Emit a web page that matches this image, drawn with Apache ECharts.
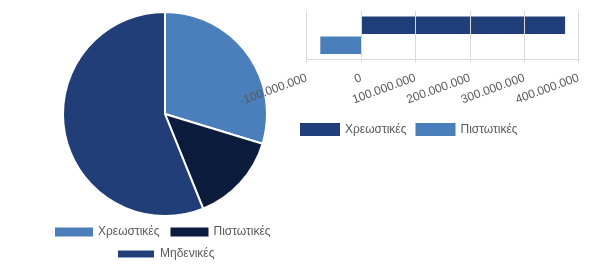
<!DOCTYPE html>
<html><head><meta charset="utf-8">
<script src="https://cdn.jsdelivr.net/npm/echarts@6/dist/echarts.min.js"></script>
<style>html,body{margin:0;padding:0;background:#fff}#c{width:590px;height:269px}</style>
</head><body><div id="c"></div>
<script>
const pieNames = ['Χρεωστικές', 'Πιστωτικές', 'Μηδενικές'];
const pieValues = [297, 142, 561];
const barSeriesNames = ['Χρεωστικές', 'Πιστωτικές'];
const barValues = [375000000, -75000000];
const barCategories = [''];
const pieColors = ['#4a7fbc', '#0c1c3c', '#213e78'];
const barColors = ['#203e79', '#4a7ebb'];

function fmt(v){
  const s = String(Math.abs(v)).replace(/\B(?=(\d{3})+(?!\d))/g, '.');
  return (v < 0 ? '-' : '') + s;
}
const txt = {color:'#595959', fontSize:12, fontFamily:'Liberation Sans, Arial, sans-serif'};
const chart = echarts.init(document.getElementById('c'));
chart.setOption({
  animation:false,
  textStyle:{fontFamily:'Liberation Sans, Arial, sans-serif'},
  legend:[
    {data:[{name:pieNames[0], itemStyle:{color:pieColors[0]}}, {name:pieNames[1], itemStyle:{color:pieColors[1]}}],
      left:55, top:226, padding:0, itemWidth:38, itemHeight:9, itemGap:11, icon:'rect', textStyle:txt},
    {data:[{name:pieNames[2], itemStyle:{color:pieColors[2]}}],
      left:116, top:248, padding:0, itemWidth:38, itemHeight:9, icon:'rect', textStyle:txt},
    {data:[{name:barSeriesNames[0], itemStyle:{color:barColors[0]}}, {name:barSeriesNames[1], itemStyle:{color:barColors[1]}}],
      left:300, top:123, padding:0, itemWidth:40, itemHeight:13, itemGap:9, icon:'rect', textStyle:txt}
  ],
  grid:{left:306.7, right:11.3, top:11, height:48.5, containLabel:false},
  xAxis:{type:'value', min:-100000000, max:400000000, interval:100000000, z:10,
    axisLine:{show:true, lineStyle:{color:'#d9d9d9'}},
    axisTick:{show:true, length:3, lineStyle:{color:'#d9d9d9'}},
    splitLine:{show:true, lineStyle:{color:'#d9d9d9'}},
    axisLabel:{rotate:20, formatter:fmt, color:'#595959', fontSize:12, margin:18}},
  yAxis:{type:'category', data:barCategories, inverse:true, axisLine:{show:false}, axisTick:{show:false}, axisLabel:{show:false}},
  series:[
    {name:barSeriesNames[0], type:'bar', data:[barValues[0]], barWidth:17.5, barGap:'13%', itemStyle:{color:barColors[0]}},
    {name:barSeriesNames[1], type:'bar', data:[barValues[1]], barWidth:17.5, barGap:'13%', itemStyle:{color:barColors[1]}},
    {type:'pie', center:[165,114], radius:102, startAngle:90, clockwise:true, z:2,
      label:{show:false}, labelLine:{show:false},
      itemStyle:{borderColor:'#fff', borderWidth:2},
      data: pieNames.map((n,i)=>({name:n, value:pieValues[i], itemStyle:{color:pieColors[i]}}))}
  ]
});
</script></body></html>
